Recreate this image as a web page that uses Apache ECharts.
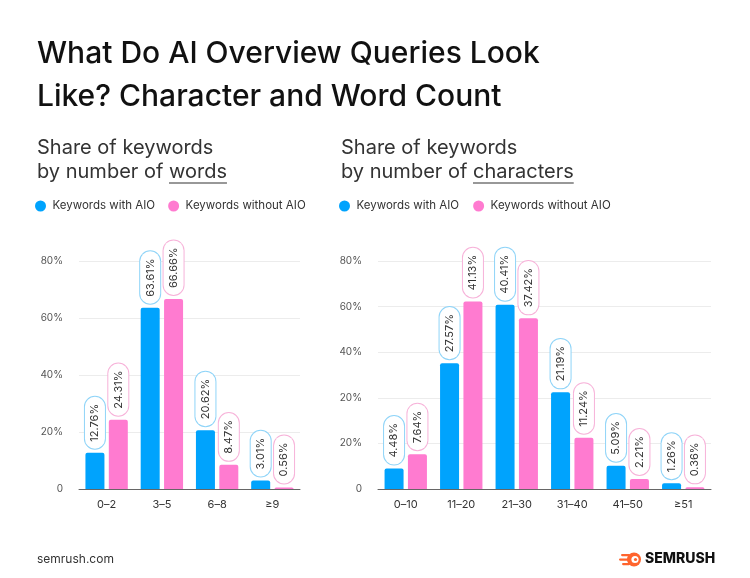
<!DOCTYPE html>
<html><head><meta charset="utf-8">
<script src="https://cdn.jsdelivr.net/npm/echarts@6/dist/echarts.min.js"></script>
<style>html,body{margin:0;padding:0;background:#fff}#c{width:750px;height:578px}</style>
</head><body><div id="c"></div>
<script>
// ---- data ----
const wordCategories = ['0–2', '3–5', '6–8', '≥9'];
const wordWithAIO = [12.76, 63.61, 20.62, 3.01];
const wordWithoutAIO = [24.31, 66.66, 8.47, 0.56];
const wordAxisTicks = ['0', '20%', '40%', '60%', '80%'];          // values 0..80 step 20

const charCategories = ['0–10', '11–20', '21–30', '31–40', '41–50', '≥51'];
const charWithAIO = [4.48, 27.57, 40.41, 21.19, 5.09, 1.26];
const charWithoutAIO = [7.64, 41.13, 37.42, 11.24, 2.21, 0.36];
const charAxisTicks = ['0', '20%', '20%', '40%', '60%', '80%'];   // values 0..50 step 10 (as printed in source)

const seriesNames = ['Keywords with AIO', 'Keywords without AIO'];

// ---- style ----
const BLUE = '#00a3fd', PINK = '#ff7bd0';
const BLUE_BORDER = '#8fd4f8', PINK_BORDER = '#f7b2d9';
const FONT = 'Inter';

const chart = echarts.init(document.getElementById('c'), null, {renderer: 'canvas'});

function mkLabel(border) {
  return {
    show: true, position: 'top', rotate: 90, align: 'left', verticalAlign: 'middle',
    distance: 4, formatter: p => p.value.toFixed(2) + '%',
    color: '#333', fontSize: 11, fontFamily: FONT, lineHeight: 12,
    backgroundColor: '#fff', borderColor: border, borderWidth: 1, borderRadius: 10,
    padding: [4, 7]
  };
}
function mkSeries(name, data, idx, color, border) {
  return {
    type: 'bar', name, data, xAxisIndex: idx, yAxisIndex: idx,
    barWidth: 19, barGap: '23%',
    itemStyle: {color, borderRadius: [2, 2, 0, 0]},
    label: mkLabel(border)
  };
}

const ctx = document.createElement('canvas').getContext('2d');
function tw(text, font) { ctx.font = font; return ctx.measureText(text).width; }
const SUB_FONT = '400 20px ' + FONT;
const wPrefix = tw('by number of ', SUB_FONT);
const wWords = tw('words', SUB_FONT);
const wChars = tw('characters', SUB_FONT);

function xAxis(gi, cats) {
  return {
    type: 'category', gridIndex: gi, data: cats,
    axisLine: {lineStyle: {color: '#666', width: 1}}, axisTick: {show: false},
    axisLabel: {color: '#333', fontSize: 11, fontFamily: FONT, margin: 10}
  };
}
function yAxis(gi, max, interval, ticks) {
  return {
    type: 'value', gridIndex: gi, min: 0, max, interval,
    axisLine: {show: false}, axisTick: {show: false},
    splitLine: {lineStyle: {color: '#ececec', width: 1}},
    axisLabel: {color: '#555', fontSize: 10, fontFamily: FONT, margin: 16,
      formatter: v => ticks[Math.round(v / interval)]}
  };
}
function legend(left, gap) {
  return {left, top: 200, padding: 0, icon: 'circle', itemWidth: 14, itemHeight: 11, itemGap: gap,
    textStyle: {color: '#333', fontSize: 11.5, fontFamily: FONT}, data: seriesNames};
}

const option = {
  backgroundColor: '#fff',
  animation: false,
  grid: [
    {left: 79, right: 450, top: 261, bottom: 89},
    {left: 378, right: 39, top: 261, bottom: 89}
  ],
  xAxis: [xAxis(0, wordCategories), xAxis(1, charCategories)],
  yAxis: [yAxis(0, 80, 20, wordAxisTicks), yAxis(1, 50, 10, charAxisTicks)],
  legend: [legend(35, 13), legend(339, 14)],
  series: [
    mkSeries(seriesNames[0], wordWithAIO, 0, BLUE, BLUE_BORDER),
    mkSeries(seriesNames[1], wordWithoutAIO, 0, PINK, PINK_BORDER),
    mkSeries(seriesNames[0], charWithAIO, 1, BLUE, BLUE_BORDER),
    mkSeries(seriesNames[1], charWithoutAIO, 1, PINK, PINK_BORDER)
  ],
  graphic: [
    {type: 'text', left: 37, top: 32, style: {
      text: 'What Do AI Overview Queries Look\nLike? Character and Word Count',
      font: '500 30px ' + FONT, lineHeight: 43, fill: '#111'}},
    {type: 'text', left: 37, top: 136, style: {
      text: 'Share of keywords\nby number of words', font: SUB_FONT, lineHeight: 24, fill: '#333'}},
    {type: 'text', left: 341, top: 136, style: {
      text: 'Share of keywords\nby number of characters', font: SUB_FONT, lineHeight: 24, fill: '#333'}},
    {type: 'line', shape: {x1: 37 + wPrefix, y1: 183, x2: 37 + wPrefix + wWords, y2: 183},
     style: {stroke: '#333', lineWidth: 1.2}},
    {type: 'line', shape: {x1: 341 + wPrefix, y1: 183, x2: 341 + wPrefix + wChars, y2: 183},
     style: {stroke: '#333', lineWidth: 1.2}},
    {type: 'text', left: 37, top: 553, style: {text: 'semrush.com', font: '400 12px ' + FONT, fill: '#333'}},
    // logo
    {type: 'rect', shape: {x: 621, y: 554, width: 9, height: 2.2, r: 1.1}, style: {fill: '#ff642d'}},
    {type: 'rect', shape: {x: 619, y: 558.5, width: 10, height: 2.2, r: 1.1}, style: {fill: '#ff642d'}},
    {type: 'rect', shape: {x: 622, y: 563, width: 8, height: 2.2, r: 1.1}, style: {fill: '#ff642d'}},
    {type: 'circle', shape: {cx: 634, cy: 559.5, r: 7}, style: {fill: '#ff642d'}},
    {type: 'circle', shape: {cx: 635, cy: 559.5, r: 3.6}, style: {fill: '#fff'}},
    {type: 'circle', shape: {cx: 635.5, cy: 559.5, r: 1.6}, style: {fill: '#ff642d'}},
    {type: 'text', left: 645, top: 552, style: {text: 'SEMRUSH', font: '800 14px ' + FONT, fill: '#111'}}
  ]
};
chart.setOption(option);
</script></body></html>
